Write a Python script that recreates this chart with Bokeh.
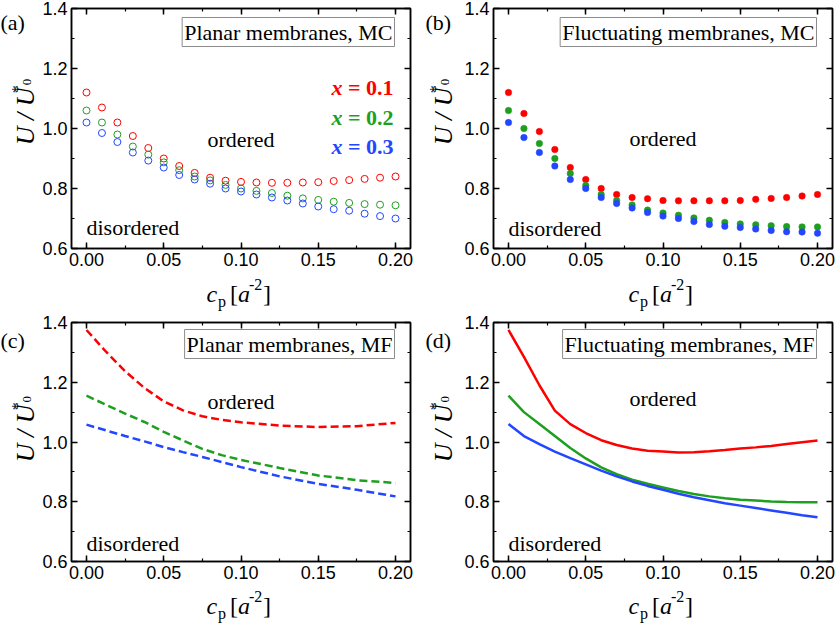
import math
from bokeh.plotting import figure
from bokeh.models import (Range1d, LinearAxis, SingleIntervalTicker, NumeralTickFormatter, Label)
from bokeh.layouts import column, row
from bokeh.embed import file_html
from bokeh.resources import INLINE

# ---------------- data ----------------
cp_mc = [0.00, 0.01, 0.02, 0.03, 0.04, 0.05, 0.06, 0.07, 0.08, 0.09, 0.10,
         0.11, 0.12, 0.13, 0.14, 0.15, 0.16, 0.17, 0.18, 0.19, 0.20]

# (a) planar membranes, MC
a_x01 = [1.12, 1.07, 1.02, 0.975, 0.935, 0.90, 0.875, 0.852, 0.836, 0.826, 0.822,
         0.82, 0.819, 0.819, 0.82, 0.821, 0.825, 0.828, 0.832, 0.836, 0.84]
a_x02 = [1.06, 1.02, 0.98, 0.94, 0.913, 0.887, 0.861, 0.84, 0.827, 0.812, 0.80,
         0.792, 0.785, 0.776, 0.767, 0.762, 0.756, 0.752, 0.748, 0.746, 0.744]
a_x03 = [1.02, 0.985, 0.955, 0.92, 0.893, 0.87, 0.845, 0.83, 0.816, 0.80, 0.79,
         0.78, 0.77, 0.76, 0.75, 0.74, 0.731, 0.726, 0.716, 0.708, 0.70]

# (b) fluctuating membranes, MC
b_x01 = [1.12, 1.05, 0.99, 0.93, 0.87, 0.83, 0.80, 0.78, 0.77, 0.766, 0.76,
         0.759, 0.759, 0.759, 0.759, 0.76, 0.764, 0.767, 0.77, 0.775, 0.78]
b_x02 = [1.06, 1.00, 0.95, 0.90, 0.85, 0.81, 0.78, 0.76, 0.745, 0.728, 0.718,
         0.711, 0.702, 0.694, 0.687, 0.682, 0.679, 0.676, 0.673, 0.672, 0.672]
b_x03 = [1.02, 0.97, 0.92, 0.875, 0.83, 0.80, 0.77, 0.75, 0.735, 0.72, 0.708,
         0.70, 0.69, 0.68, 0.674, 0.67, 0.665, 0.66, 0.656, 0.655, 0.651]

# (c) planar membranes, MF
cp_c = [0.0, 0.0125, 0.025, 0.0375, 0.05, 0.0625, 0.075, 0.0875, 0.10,
        0.125, 0.15, 0.175, 0.20]
c_x01 = [1.375, 1.303, 1.237, 1.181, 1.136, 1.106, 1.086, 1.074, 1.066,
         1.055, 1.05, 1.053, 1.064]
c_x02 = [1.155, 1.125, 1.095, 1.067, 1.034, 1.005, 0.977, 0.956, 0.94,
         0.913, 0.888, 0.872, 0.863]
c_x03 = [1.058, 1.039, 1.02, 1.002, 0.983, 0.966, 0.95, 0.933, 0.916,
         0.885, 0.86, 0.84, 0.818]

# (d) fluctuating membranes, MF
cp_d = cp_mc
d_x01 = [1.375, 1.285, 1.19, 1.105, 1.06, 1.03, 1.006, 0.99, 0.978, 0.971, 0.968,
         0.965, 0.966, 0.969, 0.973, 0.978, 0.982, 0.987, 0.993, 0.999, 1.005]
d_x02 = [1.155, 1.10, 1.06, 1.02, 0.98, 0.945, 0.915, 0.892, 0.874, 0.86, 0.848,
         0.836, 0.826, 0.818, 0.812, 0.807, 0.804, 0.801, 0.799, 0.798, 0.798]
d_x03 = [1.06, 1.02, 0.993, 0.968, 0.946, 0.925, 0.904, 0.885, 0.868, 0.853, 0.84,
         0.827, 0.815, 0.805, 0.795, 0.787, 0.779, 0.771, 0.763, 0.755, 0.748]

series_labels = ["= 0.1", "= 0.2", "= 0.3"]
RED, GREEN, BLUE = "#ff0000", "#1f9f1f", "#2346ff"
COLORS = [RED, GREEN, BLUE]

X0, X1 = -0.0097, 0.2097
Y0, Y1 = 0.6, 1.4000001
SERIF = "Liberation Serif"
SANS = "Liberation Sans"


def lab(p, text, x, y, xo=0, yo=0, size=22, style="normal", color="black",
        align="left", baseline="alphabetic", angle=0.0, **kw):
    p.add_layout(Label(x=x, y=y, x_offset=xo, y_offset=yo, text=text,
                       text_font=SERIF, text_font_size=f"{size}px",
                       text_font_style=style, text_color=color,
                       text_align=align, text_baseline=baseline,
                       angle=angle, **kw))


def style_axis(ax, ticker, fmt, show):
    ax.ticker = ticker
    ax.formatter = NumeralTickFormatter(format=fmt)
    ax.axis_line_width = 1.5
    ax.axis_line_color = "black"
    ax.major_tick_line_width = 1.5
    ax.minor_tick_line_width = 1.2
    ax.major_tick_in = 6
    ax.major_tick_out = 0
    ax.minor_tick_in = 3
    ax.minor_tick_out = 0
    ax.major_label_text_font = SANS
    if show:
        ax.major_label_text_color = "black"
        ax.major_label_text_font_size = "18px"
        ax.major_label_standoff = 4
    else:
        ax.major_label_text_color = None
        ax.major_label_text_font_size = "0px"
        ax.major_label_standoff = 0


def strip(w, h):
    s = figure(width=w, height=h, x_range=Range1d(0, w), y_range=Range1d(0, h),
               x_axis_type=None, y_axis_type=None, min_border=0,
               output_backend="svg", toolbar_location=None)
    s.outline_line_color = None
    s.background_fill_color = "white"
    s.border_fill_color = "white"
    s.xgrid.visible = False
    s.ygrid.visible = False
    return s


def make_plot(box_text, right_col, top_row):
    p = figure(width=375 if right_col else 379, height=272,
               x_range=Range1d(X0, X1), y_range=Range1d(Y0, Y1),
               x_axis_type=None, y_axis_type=None,
               output_backend="svg", toolbar_location=None,
               min_border_left=30,
               min_border_right=4 if right_col else 8,
               min_border_top=8 if top_row else 9,
               min_border_bottom=24)
    p.xgrid.visible = False
    p.ygrid.visible = False
    p.outline_line_color = "black"
    p.outline_line_width = 1.5
    p.background_fill_color = "white"
    p.border_fill_color = "white"

    xt = SingleIntervalTicker(interval=0.05, num_minor_ticks=2)
    yt = SingleIntervalTicker(interval=0.2, num_minor_ticks=2)
    for loc, show in (("below", True), ("above", False)):
        ax = LinearAxis()
        style_axis(ax, xt, "0.00", show)
        p.add_layout(ax, loc)
    for loc, show in (("left", True), ("right", False)):
        ax = LinearAxis()
        style_axis(ax, yt, "0.0", show)
        p.add_layout(ax, loc)

    # boxed title
    lab(p, box_text, X1, Y1, xo=-16, yo=(-9 if top_row else -7), size=22, align="right",
        baseline="top", border_line_color="#8c8c8c", border_line_width=1,
        background_fill_color="white", padding=2)
    return p


def make_ystrip(letter, w, h, letter_x, letter_y_top, anchor_from_top):
    s = strip(w, h)
    lab(s, letter, letter_x, h - letter_y_top, size=22)
    rot = math.pi / 2
    ay = h - anchor_from_top
    lab(s, "U / U", 25, ay, size=26, style="italic", angle=rot)
    lab(s, "*", 17, ay + 59, size=16, angle=rot)
    lab(s, "0", 26, ay + 68, size=13, angle=rot)
    return s


def make_xstrip(center, h, base_from_top):
    s = strip(418, h)
    by = h - base_from_top
    lab(s, "c", center - 33.5, by, size=24, style="italic")
    lab(s, "p", center - 22, by - 8, size=16)
    lab(s, "[", center - 10, by, size=24)
    lab(s, "a", center - 2, by, size=24, style="italic")
    lab(s, "-2", center + 9, by + 9, size=16)
    lab(s, "]", center + 23, by, size=24)
    return s


def region_labels(p, y_ord, y_dis):
    lab(p, "ordered", 0.1, y_ord, size=22, align="center")
    lab(p, "disordered", 0.0, y_dis, size=22, align="left")


# (a)
pa = make_plot("Planar membranes, MC", False, True)
for ys, c in zip([a_x01, a_x02, a_x03], COLORS):
    pa.scatter(cp_mc, ys, marker="circle", size=7, fill_color=None,
               line_color=c, line_width=1)
region_labels(pa, 0.965, 0.67)
for i, (t, c) in enumerate(zip(series_labels, COLORS)):
    yo = [-79, -109, -138][i]
    lab(pa, t, X1, Y1, xo=-17, yo=yo, size=22, style="bold", color=c, align="right")
    lab(pa, "x", X1, Y1, xo=-68, yo=yo, size=22, style="bold italic", color=c, align="right")

# (b)
pb = make_plot("Fluctuating membranes, MC", True, True)
for ys, c in zip([b_x01, b_x02, b_x03], COLORS):
    pb.scatter(cp_mc, ys, marker="circle", size=6.5, fill_color=c,
               line_color=c, line_width=0.5)
region_labels(pb, 0.968, 0.666)

# (c)
pc = make_plot("Planar membranes, MF", False, False)
for ys, c in zip([c_x01, c_x02, c_x03], COLORS):
    pc.line(cp_c, ys, line_color=c, line_width=2.5, line_dash="8 4")
region_labels(pc, 1.136, 0.661)

# (d)
pd = make_plot("Fluctuating membranes, MF", True, False)
for ys, c in zip([d_x01, d_x02, d_x03], COLORS):
    pd.line(cp_d, ys, line_color=c, line_width=2.5)
region_labels(pd, 1.145, 0.661)

ya = make_ystrip("(a)", 39, 272, 0, 16, 155)
yb = make_ystrip("(b)", 43, 272, 7, 16, 155)
yc = make_ystrip("(c)", 39, 272, 0, 21, 159)
yd = make_ystrip("(d)", 43, 272, 7, 21, 159)

xa = make_xstrip(239.5, 41, 21)
xb = make_xstrip(243.5, 41, 21)
xc = make_xstrip(239.5, 42, 20)
xd = make_xstrip(243.5, 42, 20)

layout = column(row(ya, pa, yb, pb), row(xa, xb),
                row(yc, pc, yd, pd), row(xc, xd))
open("out.html", "w").write(file_html(layout, INLINE))
